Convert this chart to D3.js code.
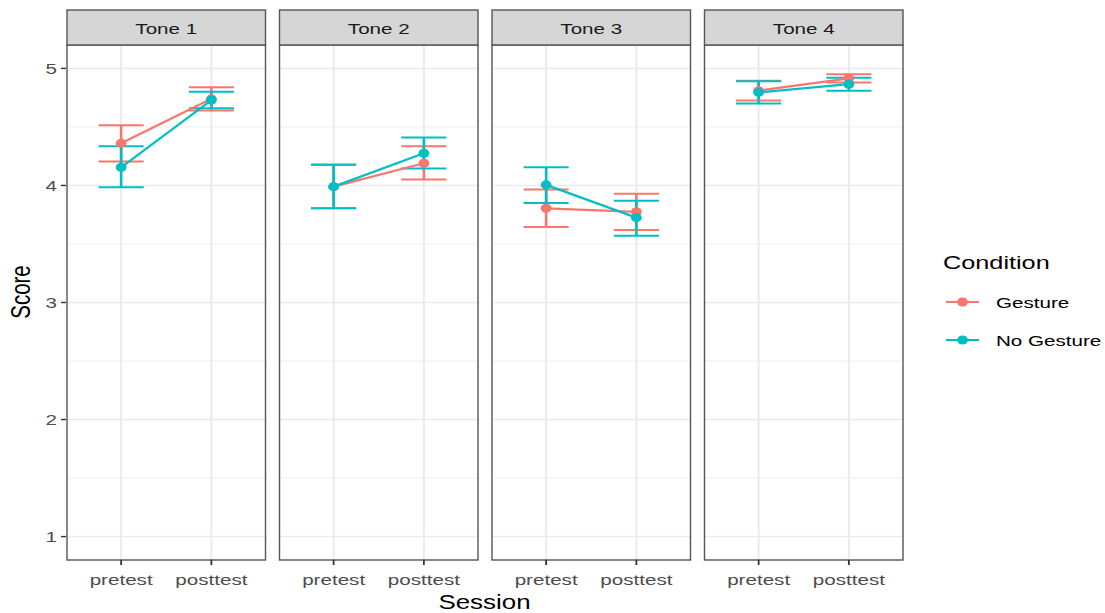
<!DOCTYPE html>
<html><head><meta charset="utf-8">
<script src="https://cdn.jsdelivr.net/npm/d3@7"></script>
<style>body{margin:0;background:#fff}svg{display:block}text{font-family:"Liberation Sans",Arial,sans-serif}</style>
</head><body><svg id="c" width="1105" height="613"></svg>
<script>
const tones = ["Tone 1","Tone 2","Tone 3","Tone 4"];
const sessions = ["pretest","posttest"];
const conditions = ["Gesture","No Gesture"];
const colors = ["#F8766D","#00BFC4"];
const yTicks = [1,2,3,4,5];
const yMinor = [1.5,2.5,3.5,4.5];
// per tone: [pretest, posttest]
const gestureMean = [[4.36,4.74],[3.99,4.19],[3.805,3.775],[4.81,4.915]];
const gestureLow  = [[4.205,4.64],[3.805,4.05],[3.645,3.62],[4.725,4.88]];
const gestureHigh = [[4.515,4.84],[4.175,4.335],[3.965,3.93],[4.895,4.95]];
const noGestureMean = [[4.155,4.73],[3.99,4.275],[4.005,3.725],[4.795,4.865]];
const noGestureLow  = [[3.985,4.66],[3.805,4.145],[3.85,3.57],[4.70,4.81]];
const noGestureHigh = [[4.335,4.80],[4.18,4.41],[4.155,3.87],[4.89,4.92]];

const series = [
  {name:conditions[0], color:colors[0], mean:gestureMean, low:gestureLow, high:gestureHigh},
  {name:conditions[1], color:colors[1], mean:noGestureMean, low:noGestureLow, high:noGestureHigh}
];

const SX = 1.33; // horizontal text stretch
const svg = d3.select("#c");
const panelW = 198.5, panelStep = 212.5, panelX0 = 67;
const stripTop = 10, panelTop = 45, panelBot = 560;
const y = d3.scaleLinear().domain([0.8,5.2]).range([panelBot,panelTop]);

function stext(g, x, yy, txt, size, fill, anchor){
  return g.append("text").attr("transform",`translate(${x},${yy}) scale(${SX},1)`)
    .attr("text-anchor",anchor||"middle").attr("font-size",size).attr("fill",fill).text(txt);
}

tones.forEach((tone, ti) => {
  const x0 = panelX0 + ti*panelStep;
  const x = d3.scaleLinear().domain([0.4,2.6]).range([x0, x0+panelW]);
  const g = svg.append("g");
  g.selectAll(".mn").data(yMinor).enter().append("line")
    .attr("x1",x0).attr("x2",x0+panelW).attr("y1",d=>y(d)).attr("y2",d=>y(d))
    .attr("stroke","#EBEBEB").attr("stroke-width",0.8);
  g.selectAll(".mj").data(yTicks).enter().append("line")
    .attr("x1",x0).attr("x2",x0+panelW).attr("y1",d=>y(d)).attr("y2",d=>y(d))
    .attr("stroke","#EBEBEB").attr("stroke-width",1.5);
  g.selectAll(".vx").data(sessions).enter().append("line")
    .attr("x1",(d,i)=>x(i+1)).attr("x2",(d,i)=>x(i+1)).attr("y1",panelTop).attr("y2",panelBot)
    .attr("stroke","#EBEBEB").attr("stroke-width",2);
  series.forEach(s => {
    sessions.forEach((ss, si) => {
      const cx = x(si+1), c1 = x(si+1-0.25), c2 = x(si+1+0.25);
      const lo = s.low[ti][si], hi = s.high[ti][si];
      g.append("line").attr("x1",cx).attr("x2",cx).attr("y1",y(lo)).attr("y2",y(hi))
        .attr("stroke",s.color).attr("stroke-width",2.6);
      [lo,hi].forEach(v => g.append("line").attr("x1",c1).attr("x2",c2).attr("y1",y(v)).attr("y2",y(v))
        .attr("stroke",s.color).attr("stroke-width",2));
    });
  });
  series.forEach(s => {
    g.append("path").datum(s.mean[ti])
      .attr("d", d3.line().x((d,i)=>x(i+1)).y(d=>y(d)))
      .attr("fill","none").attr("stroke",s.color).attr("stroke-width",2.2);
  });
  series.forEach(s => {
    g.selectAll(null).data(s.mean[ti]).enter().append("ellipse")
      .attr("cx",(d,i)=>x(i+1)).attr("cy",d=>y(d)).attr("rx",5.4).attr("ry",4.5)
      .attr("fill",s.color);
  });
  g.append("rect").attr("x",x0).attr("y",panelTop).attr("width",panelW).attr("height",panelBot-panelTop)
    .attr("fill","none").attr("stroke","#555").attr("stroke-width",1.4);
  g.append("rect").attr("x",x0).attr("y",stripTop).attr("width",panelW).attr("height",panelTop-stripTop)
    .attr("fill","#D6D6D6").attr("stroke","#555").attr("stroke-width",1.4);
  stext(g, x0+panelW/2, 34, tone, 15.5, "#1A1A1A");
  sessions.forEach((ss, si) => {
    g.append("line").attr("x1",x(si+1)).attr("x2",x(si+1)).attr("y1",panelBot).attr("y2",panelBot+5)
      .attr("stroke","#333").attr("stroke-width",1.8);
    stext(g, x(si+1), 585, ss, 15.5, "#4D4D4D");
  });
});

const ya = svg.append("g");
yTicks.forEach(t => {
  ya.append("line").attr("x1",61).attr("x2",66).attr("y1",y(t)).attr("y2",y(t)).attr("stroke","#333").attr("stroke-width",1.4);
  stext(ya, 57, y(t)+5.5, String(t), 15.5, "#4D4D4D", "end");
});
svg.append("text").attr("transform",`translate(30,292) scale(${SX},1) rotate(-90)`)
  .attr("text-anchor","middle").attr("font-size",20.5).attr("fill","#000").text("Score");
stext(svg, 484.5, 609, "Session", 19.5, "#000");

const lg = svg.append("g");
lg.append("text").attr("transform",`translate(943,269) scale(${SX},1)`).attr("font-size",19).attr("fill","#000").text("Condition");
series.forEach((s,i) => {
  const yy = 302 + i*38;
  lg.append("line").attr("x1",946).attr("x2",979).attr("y1",yy).attr("y2",yy).attr("stroke",s.color).attr("stroke-width",2.2);
  lg.append("ellipse").attr("cx",962.5).attr("cy",yy).attr("rx",5.4).attr("ry",4.5).attr("fill",s.color);
  lg.append("text").attr("transform",`translate(996,${yy+6}) scale(${SX},1)`).attr("font-size",15.5).attr("fill","#000").text(s.name);
});
</script></body></html>
